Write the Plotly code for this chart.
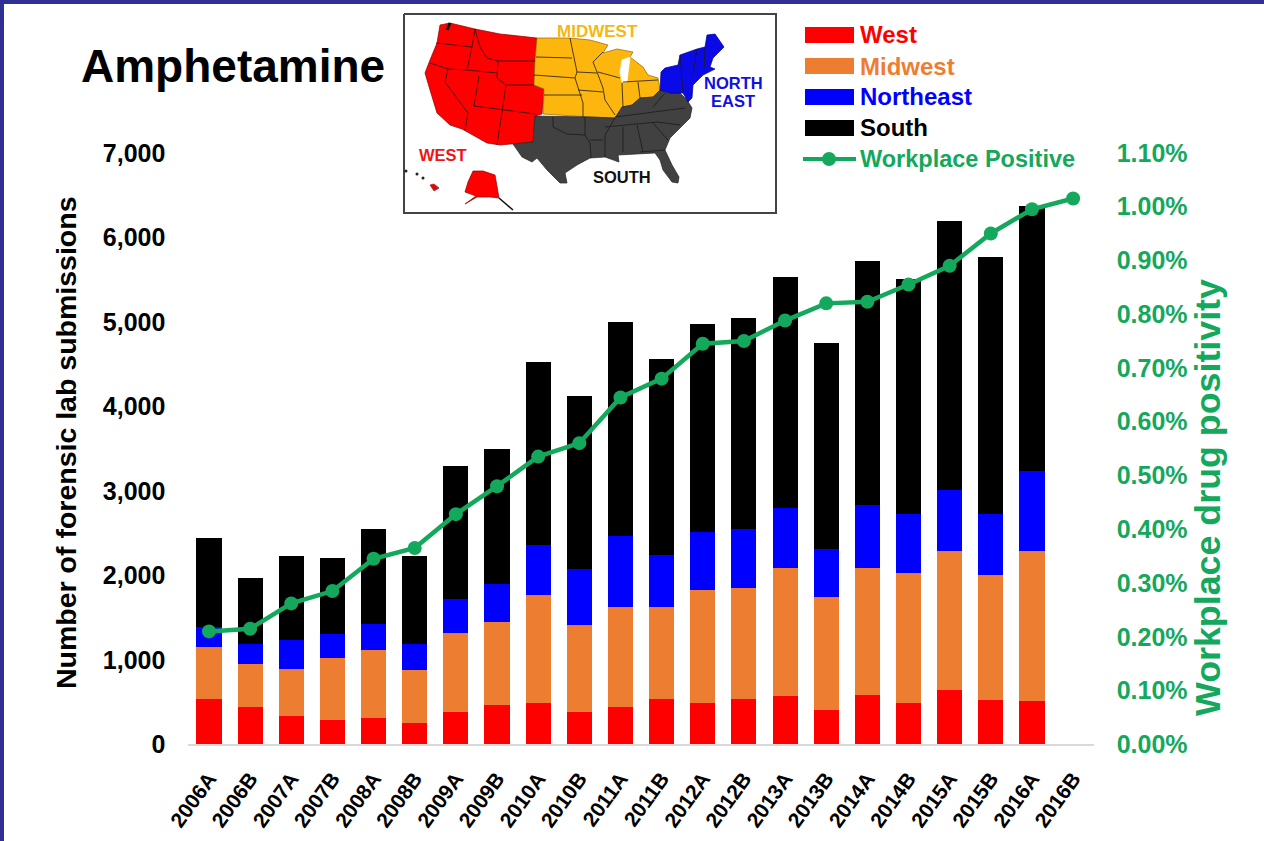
import plotly.graph_objects as go

W, H = 1264, 841

periods = ["2006A","2006B","2007A","2007B","2008A","2008B","2009A","2009B","2010A","2010B","2011A",
           "2011B","2012A","2012B","2013A","2013B","2014A","2014B","2015A","2015B","2016A","2016B"]
west = [532,445,335,291,311,248,378,465,490,385,445,535,490,535,575,402,587,492,639,524,512,None]
midwest = [619,502,556,727,805,631,943,986,1273,1028,1176,1090,1337,1315,1510,1345,1503,1531,1648,1476,1775,None]
northeast = [241,240,340,284,311,304,399,442,595,662,844,615,688,700,710,560,742,702,723,725,948,None]
south = [1045,781,1001,899,1125,1049,1575,1602,2165,2045,2532,2320,2460,2495,2735,2443,2888,2785,3180,3045,3135,None]
positive = [0.21,0.215,0.262,0.285,0.345,0.365,0.428,0.48,0.535,0.56,0.645,0.68,0.745,0.75,0.788,0.82,0.823,0.855,0.89,0.95,0.995,1.015]

left_ticks = [0,1000,2000,3000,4000,5000,6000,7000]
right_ticks = [0,0.1,0.2,0.3,0.4,0.5,0.6,0.7,0.8,0.9,1.0,1.1]
right_labels = ["0.00%","0.10%","0.20%","0.30%","0.40%","0.50%","0.60%","0.70%","0.80%","0.90%","1.00%","1.10%"]

RED, ORANGE, BLUE, BLACK, GREEN = "#FF0000", "#ED7D31", "#0000FF", "#000000", "#14A85C"
FONT = "Liberation Sans"

# Inset map outlines, in page pixels
map_box = [(404,14),(776,14),(776,213),(404,213),(404,14)]
west_region = [(440,25),(450,23),(475,29),(500,34),(537,38),(535,60),(534,85),(544,89),(542,114),(535,116),(533,142),
               (513,144),(500,145),(487,143),(467,132),(462,129),(450,125),(437,113),(430,90),(425,73),(430,60),(437,43),(440,25)]
midwest_region = [(537,38),(570,38),(590,40),(608,45),(603,53),(617,49),(633,52),(630,57),(643,67),(648,75),(658,78),(660,90),
                  (653,97),(640,98),(632,105),(622,107),(615,118),(590,117),(543,114),(544,89),(534,85),(535,60),(537,38)]
lake = [(622,60),(630,57),(627,82),(622,82),(620,72),(622,60)]
south_region = [(535,116),(533,142),(513,144),(522,157),(532,162),(537,158),(547,170),(560,183),(567,183),(565,173),(577,165),
                (590,158),(605,157),(619,162),(618,155),(640,154),(655,153),(660,160),(663,170),(672,182),(678,183),(679,177),
                (672,165),(665,150),(670,138),(680,128),(690,118),(692,108),(687,100),(680,93),(670,93),(660,90),(653,97),
                (640,98),(632,105),(622,107),(615,118),(590,117),(535,116)]
northeast_region = [(660,90),(661,72),(665,68),(678,65),(680,55),(697,49),(705,47),(707,35),(715,34),(724,47),(713,58),(710,67),
                    (715,69),(703,75),(693,85),(692,98),(688,102),(683,93),(670,93),(660,90)]
alaska = [(473,171),(483,171),(495,175),(499,198),(490,197),(477,197),(465,204),(476,196),(465,192),(468,182),(473,171)]
hawaii = [(430,185),(434,184),(439,188),(434,191),(430,185)]
state_lines = [
    [(436,43),(457,45),(472,47)], [(475,29),(472,47),(467,70)], [(475,29),(480,47),(487,58),(498,61)], [(498,61),(535,61)],
    [(498,61),(497,78)], [(430,63),(448,69),(467,70),(497,73)], [(497,78),(506,85),(534,85)], [(479,76),(474,106)],
    [(448,69),(445,82),(468,113),(465,130)], [(506,85),(502,112)], [(474,106),(502,110),(535,114)], [(502,112),(497,145)],
    [(536,57),(572,58)], [(534,75),(575,78)], [(544,95),(582,95)], [(570,38),(577,72),(575,78)], [(575,78),(583,103),(583,117)],
    [(577,72),(597,73)], [(578,90),(603,92)], [(603,52),(593,62),(597,72),(603,88),(605,100),(615,115)], [(598,72),(620,78)],
    [(622,83),(623,107)], [(638,82),(640,98)], [(623,82),(658,80)],
    [(553,117),(553,127),(567,134),(585,135),(590,143),(591,158)], [(585,117),(585,135)], [(615,118),(605,135),(605,157)],
    [(590,140),(603,140)], [(605,127),(657,122)], [(615,117),(685,108)], [(623,127),(623,152)], [(637,125),(643,152)],
    [(640,152),(665,150)], [(652,122),(668,140)], [(657,122),(680,125)], [(653,107),(665,93)],
    [(697,49),(693,75)], [(705,47),(704,70)], [(680,55),(683,93)],
]
alaska_tail = [(499,198),(513,210)]
seattle = [(447,30),(450,23)]
hawaii_dots = [(406,171),(417,174),(423,178)]

map_labels = [("MIDWEST",597,31,"#F5B80F",17),("WEST",443,155,"#F01515",16.5),("SOUTH",622,177,"#111111",16.5),
              ("NORTH",733,83,"#1010E0",16.5),("EAST",733,101,"#1010E0",16.5)]
legend_bars = [("West",RED,35),("Midwest",ORANGE,66),("Northeast",BLUE,97),("South",BLACK,128)]

def xs(p): return [a for a, _ in p]
def ys(p): return [b for _, b in p]
def fx(v): return v / W
def fy(v): return 1 - v / H

fig = go.Figure()
for name, vals, col in [("West",west,RED),("Midwest",midwest,ORANGE),("Northeast",northeast,BLUE),("South",south,BLACK)]:
    fig.add_trace(go.Bar(name=name, x=periods, y=vals, marker=dict(color=col, line_width=0), showlegend=False))
fig.add_trace(go.Scatter(name="Workplace Positive", x=periods, y=positive, yaxis="y2", mode="lines+markers",
                         line=dict(color=GREEN, width=4.5), marker=dict(color=GREEN, size=14), showlegend=False))

def poly(p, fill, line="#111111", width=0.7):
    fig.add_trace(go.Scatter(x=xs(p), y=ys(p), xaxis="x3", yaxis="y3", mode="lines", fill="toself", fillcolor=fill,
                             line=dict(color=line, width=width), hoverinfo="skip", showlegend=False))

poly(map_box, "#FFFFFF", "#444444", 2)
poly(west_region, RED, "#8A0000")
poly(midwest_region, "#FDB60D", "#8A6A00")
poly(lake, "#FFFFFF", "#FFFFFF")
poly(south_region, "#414141", "#222222")
poly(northeast_region, "#0A0AE8", "#00008A")
poly(alaska, RED, "#8A0000")
poly(hawaii, "#C81010", "#C81010")

lx, ly = [], []
for seg in state_lines:
    lx += xs(seg) + [None]
    ly += ys(seg) + [None]
fig.add_trace(go.Scatter(x=lx, y=ly, xaxis="x3", yaxis="y3", mode="lines", line=dict(color="#1A1A1A", width=0.8),
                         hoverinfo="skip", showlegend=False))
for seg, wd in [(alaska_tail, 1.5), (seattle, 3)]:
    fig.add_trace(go.Scatter(x=xs(seg), y=ys(seg), xaxis="x3", yaxis="y3", mode="lines",
                             line=dict(color="#111111", width=wd), hoverinfo="skip", showlegend=False))
fig.add_trace(go.Scatter(x=xs(hawaii_dots), y=ys(hawaii_dots), xaxis="x3", yaxis="y3", mode="markers",
                         marker=dict(color="#222222", size=3), hoverinfo="skip", showlegend=False))
# legend line sample
fig.add_trace(go.Scatter(x=[803,829,856], y=[159,159,159], xaxis="x3", yaxis="y3", mode="lines",
                         line=dict(color=GREEN, width=4), hoverinfo="skip", showlegend=False))
fig.add_trace(go.Scatter(x=[829], y=[159], xaxis="x3", yaxis="y3", mode="markers",
                         marker=dict(color=GREEN, size=14), hoverinfo="skip", showlegend=False))

shapes = [
    dict(type="rect", xref="paper", yref="paper", x0=0, x1=1, y0=fy(4), y1=1, fillcolor="#2E3192", line_width=0),
    dict(type="rect", xref="paper", yref="paper", x0=0, x1=fx(4), y0=0, y1=1, fillcolor="#2E3192", line_width=0),
]
for _, col, yc in legend_bars:
    shapes.append(dict(type="rect", xref="paper", yref="paper", x0=fx(805), x1=fx(854), y0=fy(yc+8), y1=fy(yc-8),
                       fillcolor=col, line_width=0))

ann = [dict(text="<b>Amphetamine</b>", x=fx(79), y=fy(66), xanchor="left", yanchor="middle", xref="paper", yref="paper",
            showarrow=False, font=dict(family=FONT, size=46, color="#000000"))]
for t, col, yc in legend_bars:
    ann.append(dict(text=f"<b>{t}</b>", x=fx(858), y=fy(yc), xanchor="left", yanchor="middle", xref="paper", yref="paper",
                    showarrow=False, font=dict(family=FONT, size=24, color=col)))
ann.append(dict(text="<b>Workplace Positive</b>", x=fx(858), y=fy(159), xanchor="left", yanchor="middle", xref="paper",
                yref="paper", showarrow=False, font=dict(family=FONT, size=23.5, color=GREEN)))
for t, x, y, col, sz in map_labels:
    ann.append(dict(text=f"<b>{t}</b>", x=fx(x), y=fy(y), xanchor="center", yanchor="middle", xref="paper", yref="paper",
                    showarrow=False, font=dict(family=FONT, size=sz, color=col)))
ann.append(dict(text="<b>Number of forensic lab submissions</b>", x=fx(66), y=fy(443), textangle=-90, xanchor="center",
                yanchor="middle", xref="paper", yref="paper", showarrow=False, font=dict(family=FONT, size=28.5, color="#000000")))
ann.append(dict(text="<b>Workplace drug positivity</b>", x=fx(1208), y=fy(498), textangle=-90, xanchor="center",
                yanchor="middle", xref="paper", yref="paper", showarrow=False, font=dict(family=FONT, size=35.8, color=GREEN)))

fig.update_layout(
    width=W, height=H, margin=dict(l=0, r=0, t=0, b=0, pad=0), autosize=False,
    paper_bgcolor="#FFFFFF", plot_bgcolor="rgba(0,0,0,0)", barmode="stack", bargap=0.39, showlegend=False,
    font=dict(family=FONT),
    shapes=shapes, annotations=ann,
    xaxis=dict(domain=[fx(188.4), fx(1093.7)], type="category", categoryorder="array", categoryarray=periods,
               range=[-0.5,21.5], tickangle=-54, tickfont=dict(family=FONT, size=21, color="#000000", weight="bold"),
               showgrid=False, showline=True, linecolor="#D9D9D9", linewidth=1.5, ticks="", ticklabelstandoff=12,
               automargin=False, tickmode="array", tickvals=periods, anchor="y"),
    yaxis=dict(domain=[fy(744.3), fy(152.8)], range=[0,7000], tickvals=left_ticks, tickformat=",",
               tickfont=dict(family=FONT, size=25, color="#000000", weight="bold"),
               showgrid=False, zeroline=False, showline=False, ticks="", ticklabelstandoff=22, automargin=False),
    yaxis2=dict(domain=[fy(744.3), fy(152.8)], range=[0,1.1], overlaying="y", side="right", tickmode="array",
                tickvals=right_ticks, ticktext=right_labels,
                tickfont=dict(family=FONT, size=25, color=GREEN, weight="bold"), showgrid=False, zeroline=False, showline=False,
                ticks="", ticklabelstandoff=22, automargin=False),
    xaxis3=dict(domain=[0,1], range=[0,W], visible=False, anchor="y3", fixedrange=True),
    yaxis3=dict(domain=[0,1], range=[H,0], visible=False, anchor="x3", fixedrange=True),
)
fig.write_html("out.html", config=dict(displayModeBar=False),
               post_script="document.body.style.margin='0';document.body.style.overflow='hidden';")
